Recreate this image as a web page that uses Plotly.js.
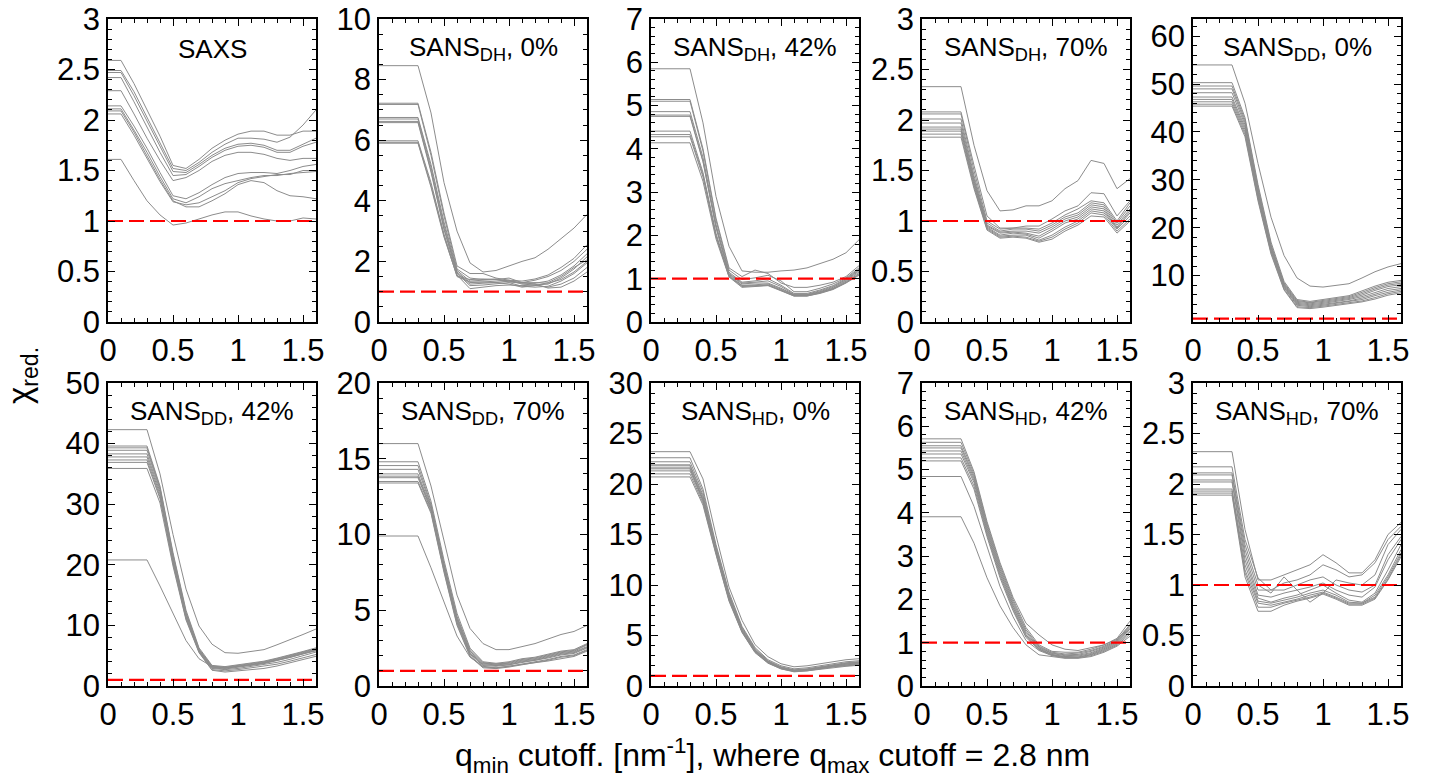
<!DOCTYPE html>
<html>
<head>
<meta charset="utf-8">
<script src="https://cdn.plot.ly/plotly-3.0.1.min.js"></script>
<style>
html,body{margin:0;padding:0;background:#fff;}
#chart{width:1429px;height:782px;}
</style>
</head>
<body>
<div id="chart"></div>
<script>
// q_min cutoff values (nm^-1)
const qmin = [0,0.1,0.2,0.3,0.4,0.5,0.6,0.7,0.8,0.9,1.0,1.1,1.2,1.3,1.4,1.5,1.6];

const panelTitles = ["SAXS","SANS<sub>DH</sub>, 0%","SANS<sub>DH</sub>, 42%","SANS<sub>DH</sub>, 70%","SANS<sub>DD</sub>, 0%",
  "SANS<sub>DD</sub>, 42%","SANS<sub>DD</sub>, 70%","SANS<sub>HD</sub>, 0%","SANS<sub>HD</sub>, 42%","SANS<sub>HD</sub>, 70%"];

const refChi = [1,1];
const refQ = [0,1.6];

const saxs = [
 [2.59,2.59,2.36,2.10,1.84,1.55,1.52,1.61,1.72,1.80,1.86,1.89,1.89,1.85,1.85,1.89,1.89],
 [2.49,2.49,2.28,2.03,1.78,1.52,1.50,1.58,1.68,1.76,1.82,1.82,1.81,1.78,1.83,1.95,2.10],
 [2.47,2.47,2.24,1.99,1.74,1.49,1.48,1.56,1.65,1.72,1.76,1.77,1.75,1.70,1.70,1.76,1.82],
 [2.42,2.42,2.18,1.93,1.68,1.45,1.46,1.54,1.63,1.70,1.74,1.75,1.73,1.68,1.68,1.74,1.78],
 [2.29,2.29,2.06,1.82,1.60,1.40,1.43,1.50,1.59,1.65,1.68,1.68,1.66,1.62,1.60,1.62,1.62],
 [2.14,2.14,1.94,1.72,1.48,1.25,1.22,1.28,1.36,1.43,1.47,1.48,1.48,1.47,1.50,1.54,1.56],
 [2.11,2.11,1.90,1.68,1.44,1.22,1.18,1.24,1.32,1.37,1.40,1.43,1.45,1.45,1.47,1.48,1.49],
 [2.09,2.09,1.88,1.65,1.41,1.20,1.14,1.14,1.20,1.27,1.36,1.40,1.38,1.30,1.25,1.24,1.22],
 [2.06,2.06,1.85,1.62,1.39,1.19,1.16,1.18,1.24,1.30,1.38,1.42,1.44,1.46,1.46,1.50,1.50],
 [1.61,1.61,1.40,1.20,1.06,0.96,0.98,1.02,1.06,1.09,1.09,1.05,1.02,1.00,1.00,1.03,1.02]
];

const dh0 = [
 [8.46,8.46,8.46,8.46,6.90,4.60,3.00,1.95,1.65,1.70,1.85,2.00,2.12,2.40,2.75,3.10,3.55],
 [7.22,7.22,7.22,7.22,5.60,3.60,1.85,1.60,1.60,1.45,1.38,1.35,1.42,1.55,1.80,2.10,2.55],
 [7.18,7.18,7.18,7.18,5.50,3.50,1.75,1.45,1.40,1.42,1.35,1.30,1.38,1.50,1.70,2.00,2.40],
 [6.75,6.75,6.75,6.75,5.20,3.30,1.70,1.35,1.38,1.40,1.45,1.30,1.28,1.35,1.55,1.85,2.25],
 [6.70,6.70,6.70,6.70,5.10,3.20,1.65,1.30,1.32,1.35,1.38,1.25,1.22,1.25,1.45,1.75,2.15],
 [6.62,6.62,6.62,6.62,5.00,3.10,1.62,1.25,1.28,1.30,1.25,1.15,1.20,1.30,1.50,1.80,2.05],
 [6.58,6.58,6.58,6.58,4.95,3.05,1.60,1.20,1.22,1.25,1.30,1.18,1.15,1.18,1.35,1.60,1.95],
 [5.98,5.98,5.98,5.98,4.60,2.90,1.55,1.10,1.15,1.20,1.22,1.20,1.22,1.15,1.25,1.45,1.80],
 [5.93,5.93,5.93,5.93,4.50,2.85,1.50,1.32,1.32,1.30,1.35,1.30,1.25,1.12,1.15,1.35,1.65],
 [5.90,5.90,5.90,5.90,4.45,2.80,1.52,1.40,1.42,1.40,1.32,1.28,1.30,1.28,1.40,1.65,2.00]
];

const dh42 = [
 [5.85,5.85,5.85,5.85,4.60,2.90,1.75,1.18,1.15,1.15,1.18,1.20,1.25,1.35,1.45,1.60,1.90],
 [5.14,5.14,5.14,5.14,4.00,2.40,1.25,1.05,1.20,1.12,0.90,0.80,0.80,0.85,0.92,1.05,1.30],
 [5.10,5.10,5.10,5.10,3.95,2.35,1.20,0.98,1.02,1.08,0.95,0.70,0.70,0.78,0.88,1.02,1.25],
 [4.86,4.86,4.86,4.86,3.80,2.25,1.15,0.92,0.95,1.00,0.85,0.66,0.66,0.74,0.84,1.00,1.22],
 [4.78,4.78,4.78,4.78,3.72,2.20,1.12,0.90,0.92,0.95,0.82,0.64,0.64,0.72,0.82,0.98,1.20],
 [4.75,4.75,4.75,4.75,3.70,2.18,1.10,0.88,0.90,0.90,0.78,0.63,0.63,0.70,0.80,0.96,1.18],
 [4.41,4.41,4.41,4.41,3.45,2.05,1.08,0.85,0.86,0.88,0.76,0.62,0.62,0.69,0.78,0.94,1.15],
 [4.33,4.33,4.33,4.33,3.40,2.00,1.06,0.84,0.84,0.86,0.74,0.61,0.61,0.68,0.77,0.92,1.12],
 [4.28,4.28,4.28,4.28,3.35,1.98,1.05,0.82,0.83,0.85,0.73,0.60,0.60,0.67,0.76,0.91,1.10],
 [4.14,4.14,4.14,4.14,3.25,1.92,1.04,0.80,0.82,0.84,0.72,0.60,0.60,0.66,0.75,0.90,1.08]
];

const dh70 = [
 [2.33,2.33,2.33,2.33,1.75,1.30,1.10,1.11,1.15,1.15,1.20,1.32,1.40,1.60,1.57,1.32,1.42],
 [2.08,2.08,2.08,2.08,1.55,1.05,0.93,0.93,0.95,0.95,1.02,1.10,1.15,1.28,1.27,1.05,1.20],
 [2.06,2.06,2.06,2.06,1.50,1.00,0.92,0.93,0.93,0.92,0.98,1.06,1.12,1.20,1.18,1.00,1.18],
 [2.01,2.01,2.01,2.01,1.45,0.98,0.90,0.92,0.92,0.90,0.96,1.04,1.08,1.18,1.16,0.98,1.15],
 [1.97,1.97,1.97,1.97,1.42,0.96,0.89,0.90,0.90,0.88,0.94,1.02,1.06,1.16,1.14,0.96,1.12],
 [1.93,1.93,1.93,1.93,1.40,0.95,0.88,0.89,0.88,0.85,0.92,1.00,1.04,1.14,1.12,0.94,1.10],
 [1.91,1.91,1.91,1.91,1.38,0.94,0.86,0.88,0.87,0.83,0.90,0.98,1.02,1.12,1.10,0.93,1.08],
 [1.89,1.89,1.89,1.89,1.36,0.93,0.85,0.86,0.86,0.81,0.86,0.94,1.00,1.10,1.08,0.92,1.05],
 [1.86,1.86,1.86,1.86,1.34,0.92,0.84,0.85,0.84,0.80,0.84,0.92,0.98,1.08,1.06,0.90,1.02],
 [1.83,1.83,1.83,1.83,1.32,0.91,0.83,0.84,0.83,0.79,0.82,0.90,0.96,1.05,1.04,0.88,1.00]
];

const dd0 = [
 [54.0,54.0,54.0,54.0,46.0,33.4,22.2,14.2,9.5,7.8,7.6,7.9,8.3,9.5,10.8,11.8,12.5],
 [50.3,50.3,50.3,50.3,43.0,29.0,17.0,8.8,5.0,4.6,5.0,5.4,5.8,6.8,7.8,8.6,9.0],
 [49.6,49.6,49.6,49.6,42.5,28.5,16.5,8.5,4.8,4.4,4.8,5.2,5.6,6.5,7.5,8.3,8.7],
 [49.0,49.0,49.0,49.0,42.0,28.0,16.2,8.3,4.6,4.3,4.6,5.0,5.4,6.2,7.2,8.0,8.4],
 [48.2,48.2,48.2,48.2,41.5,27.6,16.0,8.1,4.4,4.1,4.4,4.8,5.2,5.9,6.9,7.7,8.1],
 [47.3,47.3,47.3,47.3,41.0,27.2,15.7,7.9,4.2,3.9,4.2,4.6,5.0,5.6,6.5,7.3,7.7],
 [46.8,46.8,46.8,46.8,40.5,26.8,15.4,7.7,4.0,3.7,4.0,4.4,4.7,5.3,6.1,6.9,7.3],
 [46.3,46.3,46.3,46.3,40.0,26.4,15.1,7.5,3.8,3.5,3.8,4.2,4.5,5.0,5.8,6.5,7.0],
 [45.8,45.8,45.8,45.8,39.5,26.0,14.8,7.2,3.5,3.3,3.6,4.0,4.3,4.7,5.4,6.2,6.7],
 [45.4,45.4,45.4,45.4,39.0,25.6,14.5,7.0,3.3,3.1,3.4,3.8,4.1,4.5,5.1,5.9,6.4]
];

const dd42 = [
 [42.3,42.3,42.3,42.3,35.0,25.0,16.0,9.9,6.9,5.5,5.4,5.7,6.0,6.8,7.6,8.5,9.4],
 [39.6,39.6,39.6,39.6,33.0,22.0,12.5,6.3,3.4,3.2,3.5,3.8,4.1,4.6,5.1,5.7,6.3],
 [39.3,39.3,39.3,39.3,32.7,21.7,12.2,6.1,3.3,3.1,3.4,3.7,4.0,4.5,5.0,5.6,6.2],
 [38.9,38.9,38.9,38.9,32.4,21.4,12.0,6.0,3.2,3.0,3.3,3.6,3.9,4.4,4.9,5.5,6.1],
 [38.3,38.3,38.3,38.3,32.0,21.0,11.8,5.9,3.1,2.9,3.2,3.5,3.8,4.3,4.8,5.4,6.0],
 [37.8,37.8,37.8,37.8,31.6,20.7,11.5,5.8,3.0,2.8,3.1,3.4,3.7,4.2,4.7,5.3,5.9],
 [37.3,37.3,37.3,37.3,31.2,20.4,11.3,5.7,2.9,2.7,2.9,3.2,3.5,3.9,4.4,5.0,5.6],
 [36.9,36.9,36.9,36.9,30.9,20.2,11.1,5.6,2.7,2.5,2.7,3.0,3.2,3.6,4.1,4.6,5.2],
 [35.9,35.9,35.9,35.9,30.2,19.8,10.9,5.5,2.6,2.3,2.5,2.7,2.9,3.3,3.8,4.3,4.9],
 [20.8,20.8,20.8,20.8,16.5,11.9,7.5,4.5,3.2,3.0,3.2,3.5,3.8,4.2,4.7,5.3,5.8]
];

const dd70 = [
 [16.0,16.0,16.0,16.0,13.2,9.5,6.0,3.8,2.8,2.4,2.4,2.6,2.8,3.1,3.4,3.6,4.0],
 [14.8,14.8,14.8,14.8,12.2,8.3,4.8,2.5,1.6,1.5,1.6,1.8,1.9,2.1,2.3,2.4,2.8],
 [14.55,14.55,14.55,14.55,12.0,8.1,4.6,2.4,1.55,1.45,1.55,1.75,1.85,2.05,2.25,2.35,2.75],
 [14.3,14.3,14.3,14.3,11.9,8.0,4.5,2.3,1.5,1.45,1.5,1.7,1.8,2.0,2.2,2.3,2.7],
 [14.0,14.0,14.0,14.0,11.8,7.9,4.4,2.2,1.45,1.4,1.45,1.65,1.75,1.95,2.15,2.25,2.6],
 [13.85,13.85,13.85,13.85,11.7,7.8,4.3,2.15,1.4,1.35,1.4,1.6,1.7,1.9,2.1,2.2,2.55],
 [13.75,13.75,13.75,13.75,11.6,7.7,4.2,2.1,1.35,1.3,1.4,1.55,1.65,1.85,2.05,2.15,2.5],
 [13.5,13.5,13.5,13.5,11.5,7.6,4.1,2.0,1.25,1.2,1.3,1.45,1.55,1.75,1.95,2.05,2.4],
 [13.4,13.4,13.4,13.4,11.4,7.5,4.0,1.95,1.2,1.15,1.25,1.4,1.5,1.7,1.9,2.0,2.35],
 [9.9,9.9,9.9,9.9,7.8,5.5,3.3,1.9,1.3,1.2,1.3,1.4,1.5,1.65,1.8,1.95,2.3]
];

const hd0 = [
 [23.2,23.2,23.2,23.2,20.5,14.9,9.8,6.5,4.1,2.9,2.2,1.9,2.0,2.2,2.4,2.6,2.7],
 [22.6,22.6,22.6,22.6,19.5,14.0,9.3,5.9,3.8,2.6,2.0,1.7,1.8,2.0,2.2,2.4,2.5],
 [22.2,22.2,22.2,22.2,19.2,13.8,9.1,5.8,3.7,2.5,1.9,1.6,1.7,1.9,2.1,2.3,2.4],
 [21.9,21.9,21.9,21.9,18.9,13.6,9.0,5.7,3.6,2.45,1.85,1.55,1.65,1.85,2.05,2.25,2.35],
 [21.8,21.8,21.8,21.8,18.7,13.5,8.9,5.6,3.55,2.4,1.8,1.55,1.6,1.8,2.0,2.2,2.3],
 [21.6,21.6,21.6,21.6,18.5,13.4,8.8,5.5,3.5,2.35,1.8,1.5,1.6,1.8,2.0,2.15,2.25],
 [21.5,21.5,21.5,21.5,18.4,13.3,8.7,5.45,3.45,2.35,1.75,1.5,1.55,1.75,1.95,2.1,2.2],
 [21.3,21.3,21.3,21.3,18.3,13.2,8.6,5.4,3.4,2.3,1.75,1.45,1.55,1.75,1.9,2.05,2.15],
 [21.0,21.0,21.0,21.0,18.1,13.1,8.5,5.35,3.35,2.3,1.7,1.45,1.5,1.7,1.9,2.0,2.1],
 [20.7,20.7,20.7,20.7,17.9,13.0,8.4,5.3,3.3,2.25,1.7,1.4,1.5,1.65,1.85,1.95,2.05]
];

const hd42 = [
 [5.71,5.71,5.71,5.71,4.95,3.80,2.85,2.05,1.45,1.18,0.95,0.85,0.82,0.88,0.95,1.08,1.40],
 [5.63,5.63,5.63,5.63,4.90,3.75,2.80,2.00,1.35,0.95,0.80,0.78,0.78,0.85,0.95,1.10,1.50],
 [5.55,5.55,5.55,5.55,4.85,3.70,2.75,1.95,1.30,0.92,0.78,0.74,0.76,0.82,0.92,1.06,1.42],
 [5.50,5.50,5.50,5.50,4.80,3.65,2.70,1.90,1.26,0.90,0.76,0.72,0.73,0.80,0.90,1.04,1.38],
 [5.43,5.43,5.43,5.43,4.75,3.60,2.65,1.86,1.22,0.88,0.75,0.70,0.71,0.77,0.88,1.02,1.35],
 [5.36,5.36,5.36,5.36,4.70,3.55,2.60,1.82,1.18,0.86,0.73,0.68,0.69,0.75,0.86,1.00,1.32],
 [5.27,5.27,5.27,5.27,4.62,3.50,2.55,1.78,1.15,0.85,0.72,0.67,0.67,0.73,0.84,0.98,1.28],
 [5.20,5.20,5.20,5.20,4.55,3.45,2.50,1.74,1.12,0.84,0.71,0.66,0.66,0.72,0.82,0.96,1.25],
 [4.84,4.84,4.84,4.84,4.15,3.20,2.30,1.60,1.05,0.82,0.70,0.65,0.65,0.70,0.80,0.94,1.20],
 [3.91,3.91,3.91,3.91,3.30,2.50,1.85,1.35,0.95,0.72,0.68,0.64,0.64,0.68,0.78,0.92,1.15]
];

const hd70 = [
 [2.32,2.32,2.32,2.32,1.55,1.05,1.05,1.10,1.15,1.20,1.30,1.22,1.12,1.12,1.25,1.50,1.62],
 [2.17,2.17,2.17,2.17,1.45,1.07,0.95,1.02,1.05,1.10,1.20,1.15,1.08,1.10,1.22,1.45,1.58],
 [2.11,2.11,2.11,2.11,1.40,1.00,0.92,1.08,0.95,0.83,0.92,1.05,1.02,1.00,1.10,1.40,1.55],
 [2.09,2.09,2.09,2.09,1.35,0.95,0.95,0.95,1.00,1.05,1.08,1.00,0.95,0.93,1.00,1.30,1.48],
 [2.04,2.04,2.04,2.04,1.30,0.90,0.88,0.92,0.95,0.98,1.02,0.95,0.90,0.88,0.98,1.25,1.45],
 [2.02,2.02,2.02,2.02,1.25,0.87,0.83,0.87,0.90,0.95,1.00,0.92,0.85,0.83,0.92,1.15,1.40],
 [1.95,1.95,1.95,1.95,1.20,0.84,0.82,0.85,0.88,0.92,0.95,0.90,0.83,0.82,0.90,1.10,1.35],
 [1.93,1.93,1.93,1.93,1.15,0.82,0.80,0.83,0.86,0.90,0.93,0.88,0.82,0.82,0.88,1.08,1.32],
 [1.91,1.91,1.91,1.91,1.12,0.78,0.78,0.82,0.85,0.88,0.92,0.87,0.81,0.81,0.87,1.06,1.30],
 [1.89,1.89,1.89,1.89,1.08,0.74,0.74,0.80,0.84,0.87,0.91,0.86,0.80,0.80,0.86,1.05,1.28]
];

const yRanges = [[0,3],[0,10],[0,7],[0,3],[0.3,63.6],[0,50],[0,20],[0,30],[0,7],[0,3]];
const yDticks = [0.5,2,1,0.5,10,10,5,5,1,0.5];
const yMinor  = [0.1,0.5,0.2,0.1,2,2,1,1,0.2,0.1];

const panels = [saxs,dh0,dh42,dh70,dd0,dd42,dd70,hd0,hd42,hd70];

const W = 1429, H = 782;
const colL = [108,379,651,922,1193];
const colW = 208;
const rowT = [19,383];
const rowH = 303;

const FONT = "Liberation Sans, Arial, Helvetica, sans-serif";
const traces = [];
const layout = {
  width: W, height: H,
  margin: {l:0,r:0,t:0,b:0},
  showlegend: false,
  annotations: []
};

panels.forEach((lines, i) => {
  const n = i + 1;
  const sfx = n === 1 ? "" : String(n);
  const xa = "x" + sfx, ya = "y" + sfx;
  const col = i % 5, row = Math.floor(i / 5);
  lines.forEach(v => traces.push({
    type: "scatter", mode: "lines", x: qmin, y: v, xaxis: xa, yaxis: ya,
    line: {color: "#8c8c8c", width: 1}
  }));
  traces.push({
    type: "scatter", mode: "lines", x: refQ, y: refChi, xaxis: xa, yaxis: ya,
    line: {color: "#ff0000", width: 2.2, dash: "15px,6px"}
  });
  const x0 = colL[col], y0 = rowT[row];
  layout["xaxis" + sfx] = {
    domain: [x0 / W, (x0 + colW) / W], anchor: ya,
    range: [0, 1.6], dtick: 0.5,
    showline: true, linecolor: "#000", linewidth: 1.5, mirror: "allticks",
    ticks: "inside", ticklen: 7, tickwidth: 1.2, tickcolor: "#000",
    showgrid: false, zeroline: false,
    minor: {dtick: 0.1, ticks: "inside", ticklen: 4, tickwidth: 1, tickcolor: "#000"},
    tickfont: {family: FONT, size: 31, color: "#000"}
  };
  layout["yaxis" + sfx] = {
    domain: [1 - (y0 + rowH) / H, 1 - y0 / H], anchor: xa,
    range: yRanges[i], dtick: yDticks[i],
    showline: true, linecolor: "#000", linewidth: 1.5, mirror: "allticks",
    ticks: "inside", ticklen: 7, tickwidth: 1.2, tickcolor: "#000",
    showgrid: false, zeroline: false,
    minor: {dtick: yMinor[i], ticks: "inside", ticklen: 4, tickwidth: 1, tickcolor: "#000"},
    tickfont: {family: FONT, size: 31, color: "#000"}
  };
  layout.annotations.push({
    xref: xa + " domain", yref: ya + " domain", x: 0.5, y: 0.902,
    xanchor: "center", yanchor: "middle", showarrow: false,
    text: panelTitles[i], font: {family: FONT, size: 26, color: "#000"}
  });
});

layout.annotations.push({
  xref: "paper", yref: "paper", x: 772 / W, y: 1 - 755 / H,
  xanchor: "center", yanchor: "middle", showarrow: false,
  text: "q<sub>min</sub> cutoff. [nm<sup>-1</sup>], where q<sub>max</sub> cutoff = 2.8 nm",
  font: {family: FONT, size: 32, color: "#000"}
});
layout.annotations.push({
  xref: "paper", yref: "paper", x: 22 / W, y: 1 - 376 / H,
  xanchor: "center", yanchor: "middle", showarrow: false, textangle: -90,
  text: "χ<sub>red.</sub>",
  font: {family: FONT, size: 33, color: "#000"}
});

Plotly.newPlot("chart", traces, layout, {displayModeBar: false});
</script>
</body>
</html>
